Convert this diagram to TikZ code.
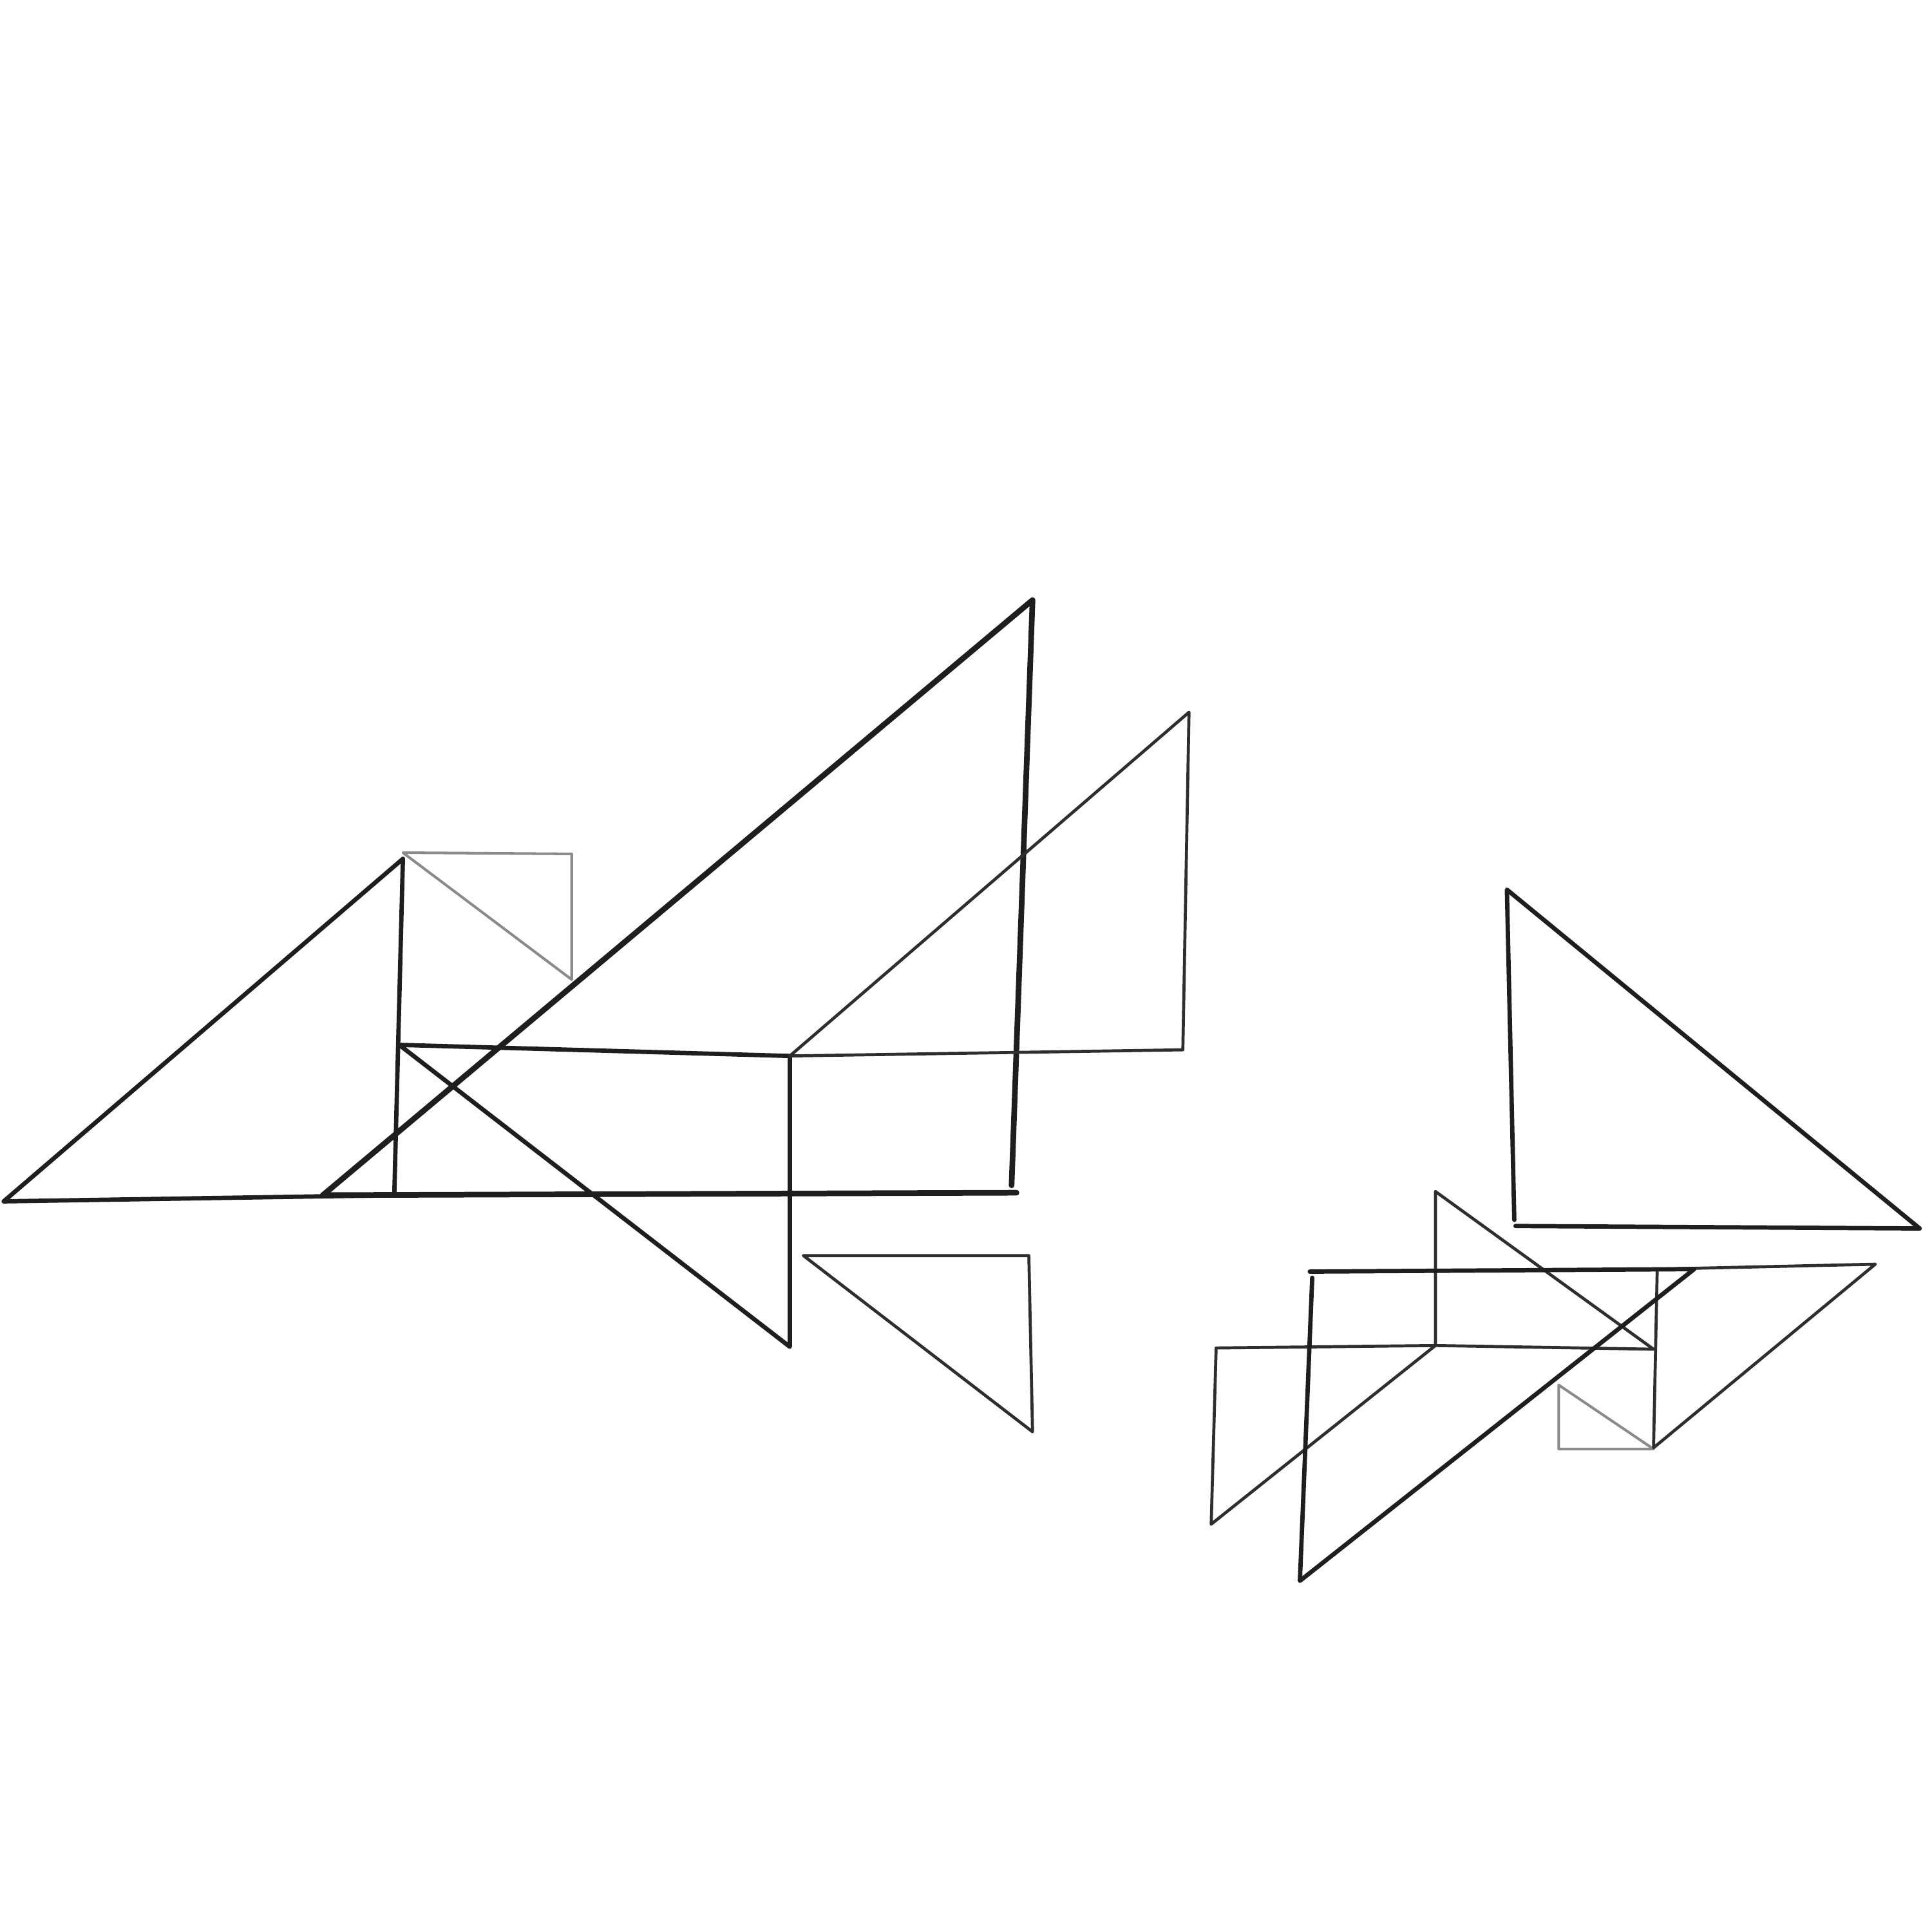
\documentclass[tikz,border=0pt]{standalone}
\usepackage{tikz}

\definecolor{inkdark}{HTML}{1E1E1E}
\definecolor{inkmid}{HTML}{2E2E2E}
\definecolor{inkgray}{HTML}{8A8A8A}

\tikzset{
  heavy/.style={draw=inkdark,line width=1.3pt,line join=round,line cap=round},
  medium/.style={draw=inkdark,line width=1.0pt,line join=round,line cap=round},
  light/.style={draw=inkmid,line width=0.7pt,line join=round,line cap=round},
  faint/.style={draw=inkgray,line width=0.6pt,line join=round,line cap=round}
}

\begin{document}
\begin{tikzpicture}[x=0.01cm,y=-0.01cm]
    \useasboundingbox (0,0) rectangle (1568,1568);

    % left group
    \draw[faint] (327,692) -- (464,693) -- (464,795) -- cycle;
    \draw[medium] (3,975) -- (327,697) -- (320,970) -- cycle;
    \draw[heavy] (262,970) -- (838,487) -- (821,962);
    \draw[heavy] (262,970) -- (825,968);
    \draw[medium] (324,848) -- (641,857) -- (641,1093) -- cycle;
    \draw[light] (641,857) -- (965,578) -- (960,852) -- cycle;
    \draw[light] (652,1019) -- (835,1019) -- (838,1162) -- cycle;

    % right group
    \draw[medium] (1230,995) -- (1558,997) -- (1223,722) -- (1229,990);
    \draw[faint] (1265,1124) -- (1265,1176) -- (1342,1176) -- cycle;
    \draw[light] (987,1094) -- (1165,1092) -- (983,1237) -- cycle;
    \draw[light] (1165,967) -- (1165,1092) -- (1342,1095) -- cycle;
    \draw[light] (1345,1030) -- (1522,1026) -- (1342,1175) -- cycle;
    \draw[medium] (1063,1032) -- (1375,1030) -- (1055,1283) -- (1065,1037);
\end{tikzpicture}
\end{document}
